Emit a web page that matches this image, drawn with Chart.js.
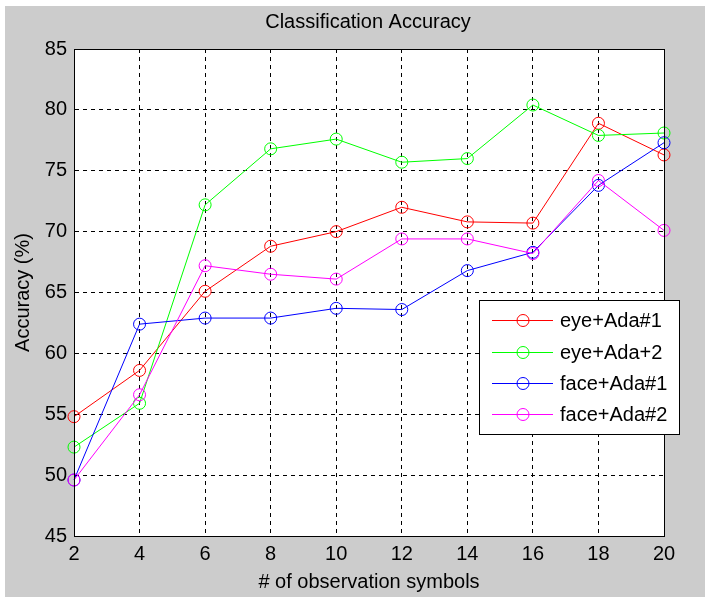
<!DOCTYPE html>
<html>
<head>
<meta charset="utf-8">
<script src="https://cdn.jsdelivr.net/npm/chart.js@4"></script>
<style>
  html, body { margin: 0; padding: 0; background: #ffffff; }
  #wrap { width: 726px; height: 597px; position: relative; }
</style>
</head>
<body>
<div id="wrap"><canvas id="c" width="726" height="597"></canvas></div>
<script>
// ---- data ----
const xValues = [2, 4, 6, 8, 10, 12, 14, 16, 18, 20];
const seriesNames = ['eye+Ada#1', 'eye+Ada+2', 'face+Ada#1', 'face+Ada#2'];
const eyeAda1  = [54.8, 58.6, 65.1, 68.8, 70.0, 72.0, 70.8, 70.7, 78.9, 76.3];
const eyeAda2  = [52.3, 55.9, 72.2, 76.8, 77.6, 75.7, 76.0, 80.4, 77.9, 78.1];
const faceAda1 = [49.6, 62.4, 62.9, 62.9, 63.7, 63.6, 66.8, 68.3, 73.8, 77.3];
const faceAda2 = [49.6, 56.6, 67.2, 66.5, 66.1, 69.4, 69.4, 68.2, 74.2, 70.1];
const seriesColors = ['#ff0000', '#00ff00', '#0000ff', '#ff00ff'];
const yTicks = [45, 50, 55, 60, 65, 70, 75, 80, 85];
const xTicks = [2, 4, 6, 8, 10, 12, 14, 16, 18, 20];

const FONT = "'Liberation Sans', Arial, sans-serif";
const allSeries = [eyeAda1, eyeAda2, faceAda1, faceAda2];

const datasets = allSeries.map((vals, i) => ({
  label: seriesNames[i],
  data: vals.map((v, j) => ({ x: xValues[j], y: v })),
  borderColor: seriesColors[i],
  backgroundColor: 'rgba(0,0,0,0)',
  pointBorderColor: seriesColors[i],
  pointBackgroundColor: 'rgba(0,0,0,0)',
  borderWidth: 1,
  pointRadius: 6,
  pointHoverRadius: 6,
  pointBorderWidth: 1,
  tension: 0,
  clip: false,
  order: allSeries.length - i
}));

const bgPlugin = {
  id: 'bg',
  beforeDraw(chart) {
    const ctx = chart.ctx;
    const a = chart.chartArea;
    ctx.save();
    ctx.fillStyle = '#ffffff';
    ctx.fillRect(0, 0, chart.width, chart.height);
    ctx.fillStyle = '#cccccc';
    ctx.fillRect(5, 6, 700, 591);
    ctx.fillStyle = '#ffffff';
    ctx.fillRect(a.left, a.top, a.right - a.left, a.bottom - a.top);
    ctx.restore();
  },
  afterDatasetsDraw(chart) {
    const ctx = chart.ctx;
    const a = chart.chartArea;
    ctx.save();
    ctx.strokeStyle = '#000000';
    ctx.lineWidth = 1;
    ctx.setLineDash([]);
    ctx.strokeRect(Math.round(a.left) + 0.5, Math.round(a.top) + 0.5,
                   Math.round(a.right - a.left), Math.round(a.bottom - a.top));
    ctx.restore();
  }
};

const legendPlugin = {
  id: 'boxLegend',
  afterDraw(chart) {
    const ctx = chart.ctx;
    const bx = 479, by = 300, bw = 200, bh = 134;
    ctx.save();
    ctx.fillStyle = '#ffffff';
    ctx.fillRect(bx, by, bw, bh);
    ctx.strokeStyle = '#000000';
    ctx.lineWidth = 1;
    ctx.setLineDash([]);
    ctx.strokeRect(bx + 0.5, by + 0.5, bw, bh);
    const rowY = [320, 352, 383, 414];
    chart.data.datasets.forEach((ds, i) => {
      const y = rowY[i] + 0.5;
      ctx.strokeStyle = ds.borderColor;
      ctx.beginPath();
      ctx.moveTo(492, y);
      ctx.lineTo(553, y);
      ctx.stroke();
      ctx.beginPath();
      ctx.arc(523, y, 6, 0, Math.PI * 2);
      ctx.stroke();
      ctx.fillStyle = '#000000';
      ctx.font = '20px ' + FONT;
      ctx.textBaseline = 'middle';
      ctx.textAlign = 'left';
      ctx.fillText(ds.label, 560, rowY[i] + 1);
    });
    ctx.restore();
  }
};

new Chart(document.getElementById('c'), {
  type: 'line',
  data: { datasets },
  options: {
    responsive: false,
    animation: false,
    events: [],
    layout: { padding: { left: 10, right: 0, top: 0, bottom: 0 } },
    plugins: {
      legend: { display: false },
      tooltip: { enabled: false },
      title: {
        display: true,
        text: 'Classification Accuracy',
        color: '#000000',
        font: { family: FONT, size: 20, weight: 'normal', lineHeight: 1.2 },
        padding: { top: 10, bottom: 15 }
      }
    },
    scales: {
      x: {
        type: 'linear',
        min: 2, max: 20,
        afterBuildTicks(scale) { scale.ticks = xTicks.map(v => ({ value: v })); },
        afterFit(scale) { scale.height = 61; },
        ticks: {
          color: '#000000',
          font: { family: FONT, size: 20 },
          padding: 6,
          maxRotation: 0,
          autoSkip: false
        },
        grid: { color: '#000000', lineWidth: 1, drawTicks: false },
        border: { display: true, color: '#000000', width: 1, dash: [4, 4] },
        title: {
          display: true,
          text: '# of observation symbols',
          color: '#000000',
          font: { family: FONT, size: 20, lineHeight: 1.2 },
          padding: { top: 0, bottom: 3 }
        }
      },
      y: {
        type: 'linear',
        position: 'left',
        min: 45, max: 85,
        afterBuildTicks(scale) { scale.ticks = yTicks.map(v => ({ value: v })); },
        afterFit(scale) { scale.width = 64; },
        ticks: {
          color: '#000000',
          font: { family: FONT, size: 20 },
          padding: 7,
          autoSkip: false
        },
        grid: { color: '#000000', lineWidth: 1, drawTicks: false },
        border: { display: true, color: '#000000', width: 1, dash: [4, 4] },
        title: {
          display: true,
          text: 'Accuracy (%)',
          color: '#000000',
          font: { family: FONT, size: 20, lineHeight: 1.2 },
          padding: { top: 1, bottom: 0 }
        }
      },
      yRight: {
        type: 'linear',
        position: 'right',
        min: 45, max: 85,
        afterFit(scale) { scale.width = 62; },
        ticks: { display: false },
        grid: { display: false, drawOnChartArea: false },
        border: { display: false },
        title: { display: false }
      }
    }
  },
  plugins: [bgPlugin, legendPlugin]
});
</script>
</body>
</html>
